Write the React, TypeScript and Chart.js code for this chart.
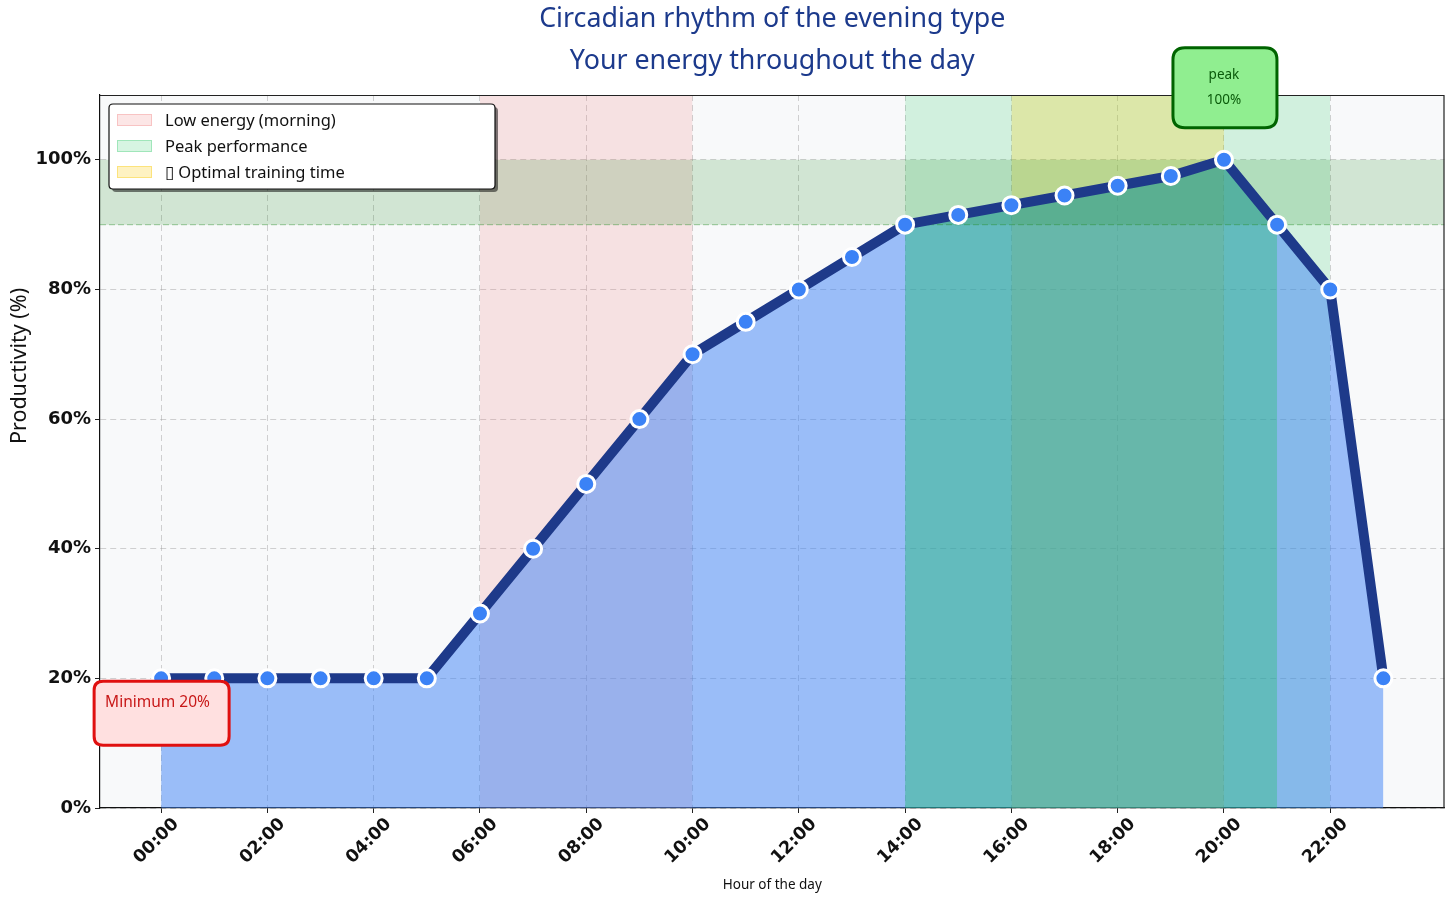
import React, { useEffect, useRef } from "react";
import { Chart, registerables } from "chart.js";

Chart.register(...registerables);

// ---------- data ----------
const HOURS = [0, 1, 2, 3, 4, 5, 6, 7, 8, 9, 10, 11, 12, 13, 14, 15, 16, 17, 18, 19, 20, 21, 22, 23];
const PRODUCTIVITY = [20, 20, 20, 20, 20, 20, 30, 40, 50, 60, 70, 75, 80, 85, 90, 91.5, 93, 94.5, 96, 97.5, 100, 90, 80, 20];
const X_TICKS = [0, 2, 4, 6, 8, 10, 12, 14, 16, 18, 20, 22];
const X_TICK_LABELS = ["00:00", "02:00", "04:00", "06:00", "08:00", "10:00", "12:00", "14:00", "16:00", "18:00", "20:00", "22:00"];
const Y_TICKS = [0, 20, 40, 60, 80, 100];
const Y_TICK_LABELS = ["0%", "20%", "40%", "60%", "80%", "100%"];
const LOW_ENERGY_WINDOW = [6, 10];
const PEAK_WINDOW = [14, 22];
const TRAINING_WINDOW = [16, 20];
const PEAK_BAND = [90, 100];
const PEAK_THRESHOLD = 90;
const LEGEND_LABELS = ["Low energy (morning)", "Peak performance", "\u25AF Optimal training time"];
const TITLE_LINES = ["Circadian rhythm of the evening type", "Your energy throughout the day"];
const Y_TITLE = "Productivity (%)";
const X_TITLE = "Hour of the day";
const PEAK_NOTE = ["peak", "100%"];
const PEAK_POINT = { x: 20, y: 100 };
const MIN_NOTE = "Minimum 20%";
const MIN_POINT = { x: 0, y: 20 };

// ---------- styling ----------
const X_MIN = -1.15;
const X_MAX = 24.15;
const Y_MIN = 0;
const Y_MAX = 110;
const PINK = "rgba(240,128,128,0.2)";
const LIGHT_GREEN = "rgba(34,197,94,0.18)";
const YELLOW = "rgba(250,204,21,0.26)";
const BLUE_FILL = "rgba(59,130,246,0.5)";
const TEAL_FILL = "rgba(20,192,87,0.3)";
const BAND = "rgba(34,139,34,0.18)";
const NAVY = "#1e3a8a";
const MARKER = "#3b82f6";
const TITLE_COLOR = "#1c3a8c";
const GRID = "rgba(150,150,150,0.42)";

const span = (w: number[]) => w.map((x) => ({ x, y: Y_MAX }));

function roundRect(ctx: CanvasRenderingContext2D, x: number, y: number, w: number, h: number, r: number) {
  ctx.beginPath();
  ctx.moveTo(x + r, y);
  ctx.lineTo(x + w - r, y);
  ctx.quadraticCurveTo(x + w, y, x + w, y + r);
  ctx.lineTo(x + w, y + h - r);
  ctx.quadraticCurveTo(x + w, y + h, x + w - r, y + h);
  ctx.lineTo(x + r, y + h);
  ctx.quadraticCurveTo(x, y + h, x, y + h - r);
  ctx.lineTo(x, y + r);
  ctx.quadraticCurveTo(x, y, x + r, y);
  ctx.closePath();
}

const decorPlugin = {
  id: "decor",
  beforeDraw(chart: any) {
    const { ctx, chartArea: a } = chart;
    ctx.save();
    ctx.fillStyle = "#ffffff";
    ctx.fillRect(0, 0, chart.width, chart.height);
    ctx.fillStyle = "#f8f9fa";
    ctx.fillRect(a.left, a.top, a.right - a.left, a.bottom - a.top);
    ctx.restore();
  },
  afterDraw(chart: any) {
    const { ctx, chartArea: a } = chart;
    const xs = chart.scales.x;
    const ys = chart.scales.y;
    ctx.save();
    // top / right spines
    ctx.strokeStyle = "#222";
    ctx.lineWidth = 1.2;
    ctx.beginPath();
    ctx.moveTo(a.left, a.top + 0.5);
    ctx.lineTo(a.right - 0.5, a.top + 0.5);
    ctx.lineTo(a.right - 0.5, a.bottom);
    ctx.stroke();

    // title
    ctx.fillStyle = TITLE_COLOR;
    ctx.font = '26.8px "Noto Sans"';
    ctx.textAlign = "center";
    ctx.textBaseline = "middle";
    const cx = (a.left + a.right) / 2;
    ctx.fillText(TITLE_LINES[0], cx, 19);
    ctx.fillText(TITLE_LINES[1], cx, 61);

    // y axis title
    ctx.save();
    ctx.translate(20, 366);
    ctx.rotate(-Math.PI / 2);
    ctx.fillStyle = "#111";
    ctx.font = '21.5px "Noto Sans"';
    ctx.fillText(Y_TITLE, 0, 0);
    ctx.restore();

    // legend
    const lx = 109, ly = 104, lw = 386, lh = 85;
    ctx.fillStyle = "rgba(0,0,0,0.5)";
    roundRect(ctx, lx + 3, ly + 3, lw, lh, 4);
    ctx.fill();
    ctx.fillStyle = "#ffffff";
    roundRect(ctx, lx, ly, lw, lh, 4);
    ctx.fill();
    ctx.strokeStyle = "#111";
    ctx.lineWidth = 1.2;
    ctx.stroke();
    const swatches = [PINK, LIGHT_GREEN, YELLOW];
    const borders = ["rgba(240,128,128,0.35)", "rgba(34,197,94,0.3)", "rgba(250,204,21,0.4)"];
    ctx.font = '16.5px "Noto Sans"';
    ctx.textAlign = "left";
    ctx.textBaseline = "middle";
    LEGEND_LABELS.forEach((t, i) => {
      const yy = 120 + i * 26;
      ctx.fillStyle = swatches[i];
      ctx.fillRect(117, yy - 6, 35, 12);
      ctx.strokeStyle = borders[i];
      ctx.lineWidth = 1;
      ctx.strokeRect(117.5, yy - 5.5, 34, 11);
      ctx.fillStyle = "#111";
      ctx.fillText(t, 165, yy + 1);
    });

    // peak annotation
    const px = xs.getPixelForValue(PEAK_POINT.x);
    const py = ys.getPixelForValue(PEAK_POINT.y);
    const bw = 104, bh = 80;
    const bx = px - bw / 2 + 1, by = py - 112;
    roundRect(ctx, bx, by, bw, bh, 12);
    ctx.fillStyle = "#90ee90";
    ctx.fill();
    ctx.strokeStyle = "#006400";
    ctx.lineWidth = 3;
    ctx.stroke();
    ctx.fillStyle = "#0a5a0a";
    ctx.font = '13.5px "Noto Sans"';
    ctx.textAlign = "center";
    ctx.fillText(PEAK_NOTE[0], px, by + 27);
    ctx.fillText(PEAK_NOTE[1], px, by + 52);

    // minimum annotation
    const mx = xs.getPixelForValue(MIN_POINT.x);
    const my = ys.getPixelForValue(MIN_POINT.y);
    const mbx = mx - 67, mby = my + 3, mbw = 135, mbh = 64;
    roundRect(ctx, mbx, mby, mbw, mbh, 9);
    ctx.fillStyle = "#ffe0e0";
    ctx.fill();
    ctx.strokeStyle = "#e01010";
    ctx.lineWidth = 3;
    ctx.stroke();
    ctx.fillStyle = "#c81818";
    ctx.font = '15.5px "Noto Sans"';
    ctx.textAlign = "left";
    ctx.fillText(MIN_NOTE, mbx + 11, mby + 21);
    ctx.restore();
  },
};

export default function App() {
  const ref = useRef<HTMLCanvasElement | null>(null);
  useEffect(() => {
    if (!ref.current) return;
    const line = HOURS.map((h, i) => ({ x: h, y: PRODUCTIVITY[i] }));
    const peak = line.filter((p) => p.y >= PEAK_THRESHOLD);
    const base = { pointRadius: 0, borderWidth: 0, tension: 0 };
    const gridOpts = {
      color: GRID,
      lineWidth: 1,
      drawTicks: true,
      tickLength: 5,
      tickColor: "#222",
      tickWidth: 1,
      tickBorderDash: [],
    } as any;
    const chart = new Chart(ref.current, {
      type: "line",
      data: {
        datasets: [
          { ...base, data: span(LOW_ENERGY_WINDOW), fill: "origin", backgroundColor: PINK, order: 10 },
          { ...base, data: span(PEAK_WINDOW), fill: "origin", backgroundColor: LIGHT_GREEN, order: 9 },
          { ...base, data: span(TRAINING_WINDOW), fill: "origin", backgroundColor: YELLOW, order: 8 },
          { ...base, data: line, fill: "origin", backgroundColor: BLUE_FILL, order: 7 },
          { ...base, data: peak, fill: "origin", backgroundColor: TEAL_FILL, order: 6 },
          {
            ...base,
            data: [{ x: X_MIN, y: PEAK_BAND[0] }, { x: X_MAX, y: PEAK_BAND[0] }],
            fill: { value: PEAK_BAND[1] },
            backgroundColor: BAND,
            borderWidth: 1.2,
            borderColor: "rgba(34,139,34,0.35)",
            borderDash: [6, 3],
            order: 5,
          },
          {
            data: line,
            fill: false,
            borderColor: NAVY,
            borderWidth: 10,
            borderJoinStyle: "round",
            borderCapStyle: "round",
            tension: 0,
            pointRadius: 8.5,
            pointBackgroundColor: MARKER,
            pointBorderColor: "#ffffff",
            pointBorderWidth: 3,
            order: 1,
          },
        ] as any,
      },
      options: {
        animation: false,
        responsive: false,
        events: [],
        layout: { padding: { top: 95, right: 10, left: 0, bottom: 0 } },
        plugins: { legend: { display: false }, tooltip: { enabled: false }, title: { display: false } },
        scales: {
          x: {
            type: "linear",
            min: X_MIN,
            max: X_MAX,
            afterBuildTicks: (s: any) => {
              s.ticks = X_TICKS.map((v) => ({ value: v }));
            },
            afterFit: (s: any) => {
              s.height = 98;
            },
            ticks: {
              autoSkip: false,
              minRotation: 45,
              maxRotation: 45,
              labelOffset: 15,
              padding: 1,
              color: "#111",
              font: { family: "DejaVu Sans", weight: "bold", size: 17.5 },
              callback: (v: any) => X_TICK_LABELS[X_TICKS.indexOf(Number(v))] ?? "",
            },
            grid: gridOpts,
            border: { display: true, color: "#111", width: 1.2, dash: [6, 4] },
            title: {
              display: true,
              text: X_TITLE,
              color: "#111",
              font: { family: "Noto Sans", size: 13.5 },
              padding: { top: 0, bottom: 13 },
            },
          },
          y: {
            type: "linear",
            min: Y_MIN,
            max: Y_MAX,
            afterBuildTicks: (s: any) => {
              s.ticks = Y_TICKS.map((v) => ({ value: v }));
            },
            afterFit: (s: any) => {
              s.width = 100;
            },
            ticks: {
              padding: 4,
              color: "#111",
              font: { family: "DejaVu Sans", weight: "bold", size: 18 },
              callback: (v: any) => Y_TICK_LABELS[Y_TICKS.indexOf(Number(v))] ?? "",
            },
            grid: gridOpts,
            border: { display: true, color: "#111", width: 1.2, dash: [6, 4] },
          },
        },
      } as any,
      plugins: [decorPlugin],
    });
    return () => chart.destroy();
  }, []);
  return (
    <div style={{ position: "absolute", left: 0, top: 0, width: 1456, height: 906 }}>
      <canvas ref={ref} width={1456} height={906} style={{ display: "block" }} />
    </div>
  );
}
